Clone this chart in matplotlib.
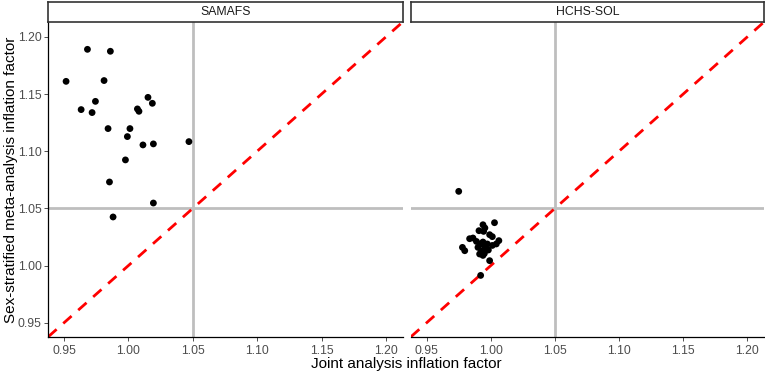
import matplotlib
matplotlib.use("Agg")
import matplotlib.pyplot as plt

plt.rcParams['font.family'] = ['Liberation Sans', 'DejaVu Sans']

panels = ["SAMAFS", "HCHS-SOL"]

samafs_x = [0.9682, 0.9860, 0.9516, 0.9811, 1.0152, 1.0186, 0.9744, 0.9633, 0.9718,
            1.0070, 1.0082, 0.9842, 1.0012, 0.9992, 1.0113, 1.0194, 1.0470, 0.9977,
            0.9853, 1.0194, 0.9881]
samafs_y = [1.1891, 1.1874, 1.1611, 1.1618, 1.1471, 1.1419, 1.1436, 1.1364, 1.1338,
            1.1370, 1.1349, 1.1198, 1.1198, 1.1128, 1.1055, 1.1064, 1.1084, 1.0924,
            1.0731, 1.0547, 1.0425]

hchs_x = [0.9750, 1.0029, 0.9939, 0.9954, 0.9908, 0.9944, 0.9991, 1.0012, 0.9861,
          0.9835, 1.0063, 0.9888, 0.9939, 0.9919, 0.9973, 1.0043, 1.0012, 0.9900,
          0.9952, 0.9779, 0.9797, 0.9926, 0.9913, 0.9950, 0.9981, 0.9939, 0.9991,
          0.9921]
hchs_y = [1.0649, 1.0375, 1.0357, 1.0329, 1.0305, 1.0299, 1.0270, 1.0253, 1.0241,
          1.0235, 1.0218, 1.0211, 1.0206, 1.0189, 1.0189, 1.0189, 1.0176, 1.0159,
          1.0154, 1.0159, 1.0130, 1.0124, 1.0101, 1.0106, 1.0136, 1.0089, 1.0043,
          0.9914]

ticks = [0.95, 1.00, 1.05, 1.10, 1.15, 1.20]
tick_labels = ["0.95", "1.00", "1.05", "1.10", "1.15", "1.20"]
threshold = 1.05
lims = (0.9378, 1.2130)

W, H = 765, 375
fig = plt.figure(figsize=(W / 100, H / 100), dpi=100)

def fx(px):
    return px / W

def fy(py):
    return 1 - py / H

panel_x = [(48.3, 402.7), (411.0, 764.0)]
top, bottom = 22.0, 336.7
strip_top = 2.0

data = [(samafs_x, samafs_y), (hchs_x, hchs_y)]

for i, (name, (xs, ys), (x0, x1)) in enumerate(zip(panels, data, panel_x)):
    ax = fig.add_axes([fx(x0), fy(bottom), fx(x1) - fx(x0), fy(top) - fy(bottom)])
    ax.set_xlim(*lims)
    ax.set_ylim(*lims)
    ax.axvline(threshold, color='#BEBEBE', lw=2.0, zorder=1)
    ax.axhline(threshold, color='#BEBEBE', lw=2.0, zorder=1)
    ax.plot(lims, lims, color='#FF0000', lw=2.0, linestyle=(0, (4, 3.2)), zorder=2)
    ax.scatter(xs, ys, s=24, color='black', edgecolors='none', zorder=3)
    for s in ['top', 'right']:
        ax.spines[s].set_visible(False)
    ax.spines['bottom'].set_color('black')
    ax.spines['bottom'].set_linewidth(0.9)
    ax.set_xticks(ticks)
    ax.set_xticklabels(tick_labels)
    ax.set_yticks(ticks)
    if i == 0:
        ax.set_yticklabels(tick_labels)
        ax.spines['left'].set_color('black')
        ax.spines['left'].set_linewidth(0.9)
        ax.tick_params(axis='y', length=2.8, width=0.6, color='#333333',
                       labelsize=8.8, labelcolor='#4D4D4D', pad=2)
    else:
        ax.spines['left'].set_visible(False)
        ax.tick_params(axis='y', left=False, labelleft=False)
    ax.tick_params(axis='x', length=2.8, width=0.6, color='#333333',
                   labelsize=8.8, labelcolor='#4D4D4D', pad=3)

    sax = fig.add_axes([fx(x0), fy(top), fx(x1) - fx(x0), fy(strip_top) - fy(top)])
    sax.set_xticks([])
    sax.set_yticks([])
    for s in sax.spines.values():
        s.set_color('#333333')
        s.set_linewidth(1.2)
    sax.text(0.5, 0.5, name, ha='center', va='center', fontsize=8.8,
             color='#1A1A1A', transform=sax.transAxes)

fig.text(fx(406), fy(364), "Joint analysis inflation factor", ha='center',
         va='center', fontsize=11, color='black')
fig.text(fx(11), fy(180), "Sex-stratified meta-analysis inflation factor",
         ha='center', va='center', rotation=90, fontsize=11, color='black')

fig.savefig("out.png", dpi=100)
